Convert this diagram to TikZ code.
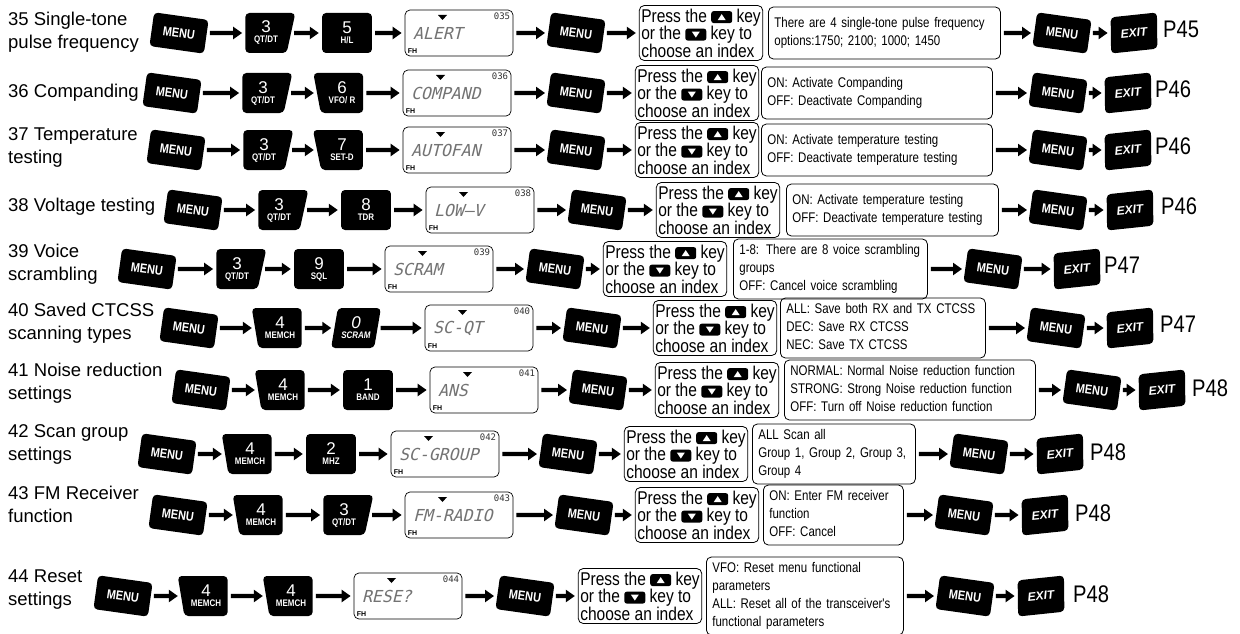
\documentclass[tikz,border=0pt]{standalone}
\usepackage{fontspec}
\setmainfont{Liberation Sans}
\newfontfamily\narrowfont[FakeStretch=0.84]{Liberation Sans}
\newfontfamily\optfont[FakeStretch=0.82]{Liberation Sans}
\newfontfamily\lcdfont[FakeSlant=0.25]{DejaVu Sans Mono}
\newfontfamily\lcdnumfont{DejaVu Sans Mono}
\usetikzlibrary{shapes.geometric,arrows.meta}

% small black arrow keys used inside the text
\newcommand{\upkey}{\tikz[x=1pt,y=1pt,baseline=0pt]{\fill[black,rounded corners=2.5pt] (0,-1) rectangle (21,11); \fill[white,sharp corners] (6.5,2) -- (14.5,2) -- (10.5,8) -- cycle;}}
\newcommand{\dnkey}{\tikz[x=1pt,y=1pt,baseline=0pt]{\fill[black,rounded corners=2.5pt] (0,-1) rectangle (21,11); \fill[white,sharp corners] (6.5,8) -- (14.5,8) -- (10.5,2) -- cycle;}}
\newcommand{\presstext}{Press the \upkey{} key\\or the \dnkey{} key to\\choose an index}
\newcommand{\digitkey}[2]{{\fontsize{17}{14}\selectfont #1}\\[-2pt]{\narrowfont\bfseries\fontsize{9.5}{9.5}\selectfont #2}}
\newcommand{\optlines}[1]{\begin{tabular}{@{}l@{}}#1\end{tabular}}

\begin{document}
\begin{tikzpicture}[x=1pt,y=-1pt]
	\tikzset{
		keycap/.style={shape=trapezium, trapezium left angle=90, trapezium right angle=90,
				trapezium stretches=true, fill=black, text=white, rounded corners=4pt,
				inner sep=0pt, minimum width=50pt, minimum height=40pt, align=center},
		menukey/.style={keycap, minimum width=55pt, minimum height=34pt, rotate=-8,
				font=\narrowfont\bfseries\fontsize{13}{13}\selectfont},
		numkey/.style={keycap},
		slantr/.style={trapezium right angle=102},
		slantl/.style={trapezium left angle=102},
		leanr/.style={trapezium left angle=76, trapezium right angle=104},
		exitkey/.style={keycap, leanr, minimum width=50pt, minimum height=36pt, rotate=6,
				font=\bfseries\itshape\fontsize{12}{12}\selectfont},
		lcd/.style={draw, rounded corners=5pt, line width=0.7pt, minimum height=46pt,
				text width=92pt, inner xsep=8pt, align=left, text=black!55,
				font=\lcdfont\fontsize{16.5}{16.5}\selectfont,
				label={[lcdnum]north east:#1}, label={[lcdfh]south west:FH},
				path picture={\fill[black,sharp corners] ([shift={(33pt,-5pt)}]path picture bounding box.north west)
						-- ++(9pt,0pt) -- ++(-4.5pt,-5pt) -- cycle;}},
		lcdnum/.style={anchor=north east, inner sep=3pt, text=black!80,
				font=\lcdnumfont\fontsize{9}{9}\selectfont},
		lcdfh/.style={anchor=south west, inner sep=3pt, text=black,
				font=\bfseries\fontsize{7}{7}\selectfont},
		pressbox/.style={draw, rounded corners=5pt, line width=0.8pt, align=left,
				minimum width=122pt, minimum height=55pt, inner sep=2pt,
				font=\narrowfont\fontsize{18.5}{17.5}\selectfont},
		optbox/.style={draw, rounded corners=5pt, line width=0.8pt, anchor=west,
				minimum height=52pt, inner xsep=6pt, inner ysep=3pt, text width=#1,
				font=\optfont\fontsize{14}{18}\selectfont},
		rowlabel/.style={anchor=west, inner sep=0pt, align=left,
				font=\fontsize{18.5}{23}\selectfont},
		pagelabel/.style={anchor=west, inner sep=0pt,
				font=\narrowfont\fontsize{24}{24}\selectfont},
		fatarrow/.style={-{Triangle[length=9pt,width=12pt]}, line width=4.2pt,
				shorten <=3pt, shorten >=3pt},
	}
	\path[fill=white, use as bounding box] (0,0) rectangle (1240,634);

	% 35
	\begin{scope}[shift={(0,33)}]
		\node[rowlabel] (r35-lbl) at (8,-1) {35 Single-tone\\pulse frequency};
		\node[menukey] (r35-m1) at (179,0) {MENU};
		\node[numkey, slantr] (r35-ka) at (266,0) {\digitkey{3}{QT/DT}};
		\node[numkey] (r35-kb) at (347,0) {\digitkey{5}{H/L}};
		\node[lcd=035] (r35-lcd) at (459,0) {ALERT};
		\node[menukey] (r35-m2) at (576,0) {MENU};
		\node[pressbox] (r35-press) at (701,0) {\presstext};
		\node[optbox=220pt] (r35-opt) at (768,0) {\optlines{There are 4 single-tone pulse frequency\\options:1750; 2100; 1000; 1450}};
		\node[menukey] (r35-m3) at (1062,0) {MENU};
		\node[exitkey] (r35-exit) at (1134,0) {EXIT};
		\node[pagelabel] (r35-page) at (1163,-4) {P45};
	\end{scope}

	% 36
	\begin{scope}[shift={(0,93)}]
		\node[rowlabel] (r36-lbl) at (8,0) {36 Companding};
		\node[menukey] (r36-m1) at (172,0) {MENU};
		\node[numkey, slantr] (r36-ka) at (263,0) {\digitkey{3}{QT/DT}};
		\node[numkey, slantl] (r36-kb) at (342,0) {\digitkey{6}{VFO/ R}};
		\node[lcd=036] (r36-lcd) at (457,0) {COMPAND};
		\node[menukey] (r36-m2) at (576,0) {MENU};
		\node[pressbox] (r36-press) at (697,0) {\presstext};
		\node[optbox=219pt] (r36-opt) at (761,0) {\optlines{ON: Activate Companding\\OFF: Deactivate Companding}};
		\node[menukey] (r36-m3) at (1058,0) {MENU};
		\node[exitkey] (r36-exit) at (1128,0) {EXIT};
		\node[pagelabel] (r36-page) at (1155,-4) {P46};
	\end{scope}

	% 37
	\begin{scope}[shift={(0,150)}]
		\node[rowlabel] (r37-lbl) at (8,-3) {37 Temperature\\testing};
		\node[menukey] (r37-m1) at (176,0) {MENU};
		\node[numkey, slantr] (r37-ka) at (264,0) {\digitkey{3}{QT/DT}};
		\node[numkey, slantl] (r37-kb) at (342,0) {\digitkey{7}{SET-D}};
		\node[lcd=037] (r37-lcd) at (457,0) {AUTOFAN};
		\node[menukey] (r37-m2) at (576,0) {MENU};
		\node[pressbox] (r37-press) at (697,0) {\presstext};
		\node[optbox=219pt] (r37-opt) at (761,0) {\optlines{ON: Activate temperature testing\\OFF: Deactivate temperature testing}};
		\node[menukey] (r37-m3) at (1058,0) {MENU};
		\node[exitkey] (r37-exit) at (1128,0) {EXIT};
		\node[pagelabel] (r37-page) at (1155,-4) {P46};
	\end{scope}

	% 38
	\begin{scope}[shift={(0,210)}]
		\node[rowlabel] (r38-lbl) at (8,-3) {38 Voltage testing};
		\node[menukey] (r38-m1) at (193,0) {MENU};
		\node[numkey, slantr] (r38-ka) at (279,0) {\digitkey{3}{QT/DT}};
		\node[numkey] (r38-kb) at (366,0) {\digitkey{8}{TDR}};
		\node[lcd=038] (r38-lcd) at (480,0) {LOW–V};
		\node[menukey] (r38-m2) at (597,0) {MENU};
		\node[pressbox] (r38-press) at (718,0) {\presstext};
		\node[optbox=200pt] (r38-opt) at (786,0) {\optlines{ON: Activate temperature testing\\OFF: Deactivate temperature testing}};
		\node[menukey] (r38-m3) at (1058,0) {MENU};
		\node[exitkey] (r38-exit) at (1130,0) {EXIT};
		\node[pagelabel] (r38-page) at (1161,-4) {P46};
	\end{scope}

	% 39
	\begin{scope}[shift={(0,269)}]
		\node[rowlabel] (r39-lbl) at (8,-5) {39 Voice\\scrambling};
		\node[menukey] (r39-m1) at (147,0) {MENU};
		\node[numkey, slantr] (r39-ka) at (237,0) {\digitkey{3}{QT/DT}};
		\node[numkey] (r39-kb) at (319,0) {\digitkey{9}{SQL}};
		\node[lcd=039] (r39-lcd) at (439,0) {SCRAM};
		\node[menukey] (r39-m2) at (555,0) {MENU};
		\node[pressbox] (r39-press) at (665,0) {\presstext};
		\node[optbox=182pt] (r39-opt) at (733,0) {\optlines{1-8: There are 8 voice scrambling\\groups\\OFF: Cancel voice scrambling}};
		\node[menukey] (r39-m3) at (993,0) {MENU};
		\node[exitkey] (r39-exit) at (1077,0) {EXIT};
		\node[pagelabel] (r39-page) at (1104,-4) {P47};
	\end{scope}

	% 40
	\begin{scope}[shift={(0,328)}]
		\node[rowlabel] (r40-lbl) at (8,-5) {40 Saved CTCSS\\scanning types};
		\node[menukey] (r40-m1) at (189,0) {MENU};
		\node[numkey, slantl] (r40-ka) at (280,0) {\digitkey{4}{MEMCH}};
		\node[numkey, leanr] (r40-kb) at (356,0) {\digitkey{\itshape 0}{\itshape SCRAM}};
		\node[lcd=040] (r40-lcd) at (479,0) {SC-QT};
		\node[menukey] (r40-m2) at (592,0) {MENU};
		\node[pressbox] (r40-press) at (715,0) {\presstext};
		\node[optbox=193pt] (r40-opt) at (780,0) {\optlines{ALL: Save both RX and TX CTCSS\\DEC: Save RX CTCSS\\NEC: Save TX CTCSS}};
		\node[menukey] (r40-m3) at (1056,0) {MENU};
		\node[exitkey] (r40-exit) at (1130,0) {EXIT};
		\node[pagelabel] (r40-page) at (1160,-4) {P47};
	\end{scope}

	% 41
	\begin{scope}[shift={(0,390)}]
		\node[rowlabel] (r41-lbl) at (8,-7) {41 Noise reduction\\settings};
		\node[menukey] (r41-m1) at (201,0) {MENU};
		\node[numkey, slantl] (r41-ka) at (283,0) {\digitkey{4}{MEMCH}};
		\node[numkey] (r41-kb) at (368,0) {\digitkey{1}{BAND}};
		\node[lcd=041] (r41-lcd) at (484,0) {ANS};
		\node[menukey] (r41-m2) at (598,0) {MENU};
		\node[pressbox] (r41-press) at (717,0) {\presstext};
		\node[optbox=239pt] (r41-opt) at (784,0) {\optlines{NORMAL: Normal Noise reduction function\\STRONG: Strong Noise reduction function\\OFF: Turn off Noise reduction function}};
		\node[menukey] (r41-m3) at (1092,0) {MENU};
		\node[exitkey] (r41-exit) at (1162,0) {EXIT};
		\node[pagelabel] (r41-page) at (1192,-2) {P48};
	\end{scope}

	% 42
	\begin{scope}[shift={(0,454)}]
		\node[rowlabel] (r42-lbl) at (8,-10) {42 Scan group\\settings};
		\node[menukey] (r42-m1) at (167,0) {MENU};
		\node[numkey, slantl] (r42-ka) at (250,0) {\digitkey{4}{MEMCH}};
		\node[numkey] (r42-kb) at (331,0) {\digitkey{2}{MHZ}};
		\node[lcd=042] (r42-lcd) at (445,0) {SC-GROUP};
		\node[menukey] (r42-m2) at (568,0) {MENU};
		\node[pressbox] (r42-press) at (686,0) {\presstext};
		\node[optbox=151pt] (r42-opt) at (752,0) {\optlines{ALL Scan all\\Group 1, Group 2, Group 3,\\Group 4}};
		\node[menukey] (r42-m3) at (979,0) {MENU};
		\node[exitkey] (r42-exit) at (1060,0) {EXIT};
		\node[pagelabel] (r42-page) at (1090,-2) {P48};
	\end{scope}

	% 43
	\begin{scope}[shift={(0,515)}]
		\node[rowlabel] (r43-lbl) at (8,-11) {43 FM Receiver\\function};
		\node[menukey] (r43-m1) at (178,0) {MENU};
		\node[numkey, slantl] (r43-ka) at (261,0) {\digitkey{4}{MEMCH}};
		\node[numkey, slantr] (r43-kb) at (344,0) {\digitkey{3}{QT/DT}};
		\node[lcd=043] (r43-lcd) at (459,0) {FM-RADIO};
		\node[menukey] (r43-m2) at (584,0) {MENU};
		\node[pressbox] (r43-press) at (697,0) {\presstext};
		\node[optbox=128pt] (r43-opt) at (763,0) {\optlines{ON: Enter FM receiver\\function\\OFF: Cancel}};
		\node[menukey] (r43-m3) at (964,0) {MENU};
		\node[exitkey] (r43-exit) at (1045,0) {EXIT};
		\node[pagelabel] (r43-page) at (1075,-2) {P48};
	\end{scope}

	% 44
	\begin{scope}[shift={(0,596)}]
		\node[rowlabel] (r44-lbl) at (8,-6) {44 Reset\\settings};
		\node[menukey] (r44-m1) at (123,0) {MENU};
		\node[numkey, slantl] (r44-ka) at (206,0) {\digitkey{4}{MEMCH}};
		\node[numkey, slantl] (r44-kb) at (291,0) {\digitkey{4}{MEMCH}};
		\node[lcd=044] (r44-lcd) at (408,0) {RESE?};
		\node[menukey] (r44-m2) at (525,0) {MENU};
		\node[pressbox] (r44-press) at (640,0) {\presstext};
		\node[optbox=185pt] (r44-opt) at (706,0) {\optlines{VFO: Reset menu functional\\parameters\\ALL: Reset all of the transceiver's\\functional parameters}};
		\node[menukey] (r44-m3) at (965,0) {MENU};
		\node[exitkey] (r44-exit) at (1041,0) {EXIT};
		\node[pagelabel] (r44-page) at (1073,-2) {P48};
	\end{scope}

	\foreach \r in {35,...,44}
		{
			\foreach \a/\b in {m1/ka, ka/kb, kb/lcd, lcd/m2, m2/press, opt/m3, m3/exit}{
					\draw[fatarrow] (r\r-\a) -- (r\r-\b);
				}
		}
\end{tikzpicture}
\end{document}
